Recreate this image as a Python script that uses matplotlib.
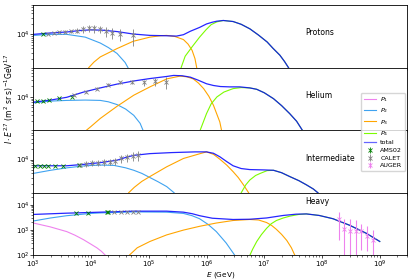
import numpy as np
import matplotlib.pyplot as plt

# curves: (log10 E [GeV], log10 I*E^2.7)
prot_p2 = [(3.0, 3.97), (3.3, 4.0), (3.58, 4.0), (3.9, 3.92), (4.16, 3.75), (4.3, 3.62),
           (4.45, 3.45), (4.59, 3.19), (4.64, 3.04), (4.7, 2.8)]
prot_p3 = [(3.9, 2.85), (3.96, 3.04), (4.05, 3.2), (4.16, 3.35), (4.45, 3.59), (4.73, 3.8),
           (5.02, 3.92), (5.2, 3.96), (5.31, 3.97), (5.45, 3.94), (5.6, 3.85), (5.68, 3.72),
           (5.75, 3.54), (5.8, 3.3), (5.83, 3.04), (5.87, 2.8)]
prot_p4 = [(5.53, 2.85), (5.56, 3.04), (5.63, 3.37), (5.75, 3.64), (5.88, 3.92), (5.99, 4.13),
           (6.08, 4.28), (6.18, 4.36), (6.29, 4.4), (6.46, 4.37), (6.6, 4.29), (6.75, 4.16),
           (6.9, 3.98), (7.05, 3.78), (7.15, 3.6), (7.27, 3.4), (7.35, 3.22), (7.42, 3.04),
           (7.5, 2.8)]
prot_tot = [(3.0, 4.0), (3.3, 4.04), (3.59, 4.07), (3.8, 4.11), (4.0, 4.13), (4.2, 4.12),
            (4.45, 4.08), (4.73, 4.01), (5.02, 3.97), (5.3, 3.96), (5.48, 3.95), (5.6, 3.99),
            (5.72, 4.09), (5.88, 4.2), (6.0, 4.3), (6.1, 4.35), (6.18, 4.38), (6.29, 4.4),
            (6.46, 4.37), (6.6, 4.29), (6.75, 4.16), (6.9, 3.98), (7.05, 3.78), (7.15, 3.6),
            (7.27, 3.4), (7.35, 3.22), (7.42, 3.04), (7.5, 2.8)]

he_p2 = [(3.0, 3.83), (3.3, 3.88), (3.58, 3.9), (3.9, 3.91), (4.16, 3.9), (4.3, 3.86),
         (4.45, 3.78), (4.6, 3.65), (4.74, 3.47), (4.85, 3.24), (4.9, 3.04), (4.95, 2.85)]
he_p3 = [(3.85, 2.85), (3.92, 3.04), (4.0, 3.15), (4.16, 3.38), (4.45, 3.73), (4.74, 4.05),
         (5.02, 4.29), (5.31, 4.52), (5.54, 4.6), (5.66, 4.58), (5.77, 4.52), (5.86, 4.4),
         (5.95, 4.24), (6.04, 4.02), (6.12, 3.76), (6.23, 3.28), (6.26, 3.04), (6.3, 2.85)]
he_p4 = [(5.86, 2.9), (5.89, 3.04), (6.0, 3.52), (6.08, 3.8), (6.18, 4.0), (6.3, 4.14),
         (6.46, 4.24), (6.6, 4.27), (6.75, 4.26), (6.87, 4.22), (7.0, 4.12), (7.16, 3.95),
         (7.3, 3.75), (7.44, 3.52), (7.56, 3.3), (7.66, 3.04), (7.72, 2.85)]
he_tot = [(3.0, 3.85), (3.3, 3.91), (3.58, 3.99), (3.87, 4.14), (4.16, 4.26), (4.45, 4.37),
          (4.74, 4.46), (5.02, 4.53), (5.31, 4.59), (5.43, 4.62), (5.58, 4.61), (5.72, 4.57),
          (5.86, 4.48), (6.0, 4.38), (6.12, 4.33), (6.24, 4.3), (6.4, 4.29), (6.58, 4.29),
          (6.75, 4.26), (6.87, 4.22), (7.0, 4.12), (7.16, 3.95), (7.3, 3.75), (7.44, 3.52),
          (7.56, 3.3), (7.66, 3.04), (7.72, 2.85)]

im_p2 = [(3.0, 3.6), (3.3, 3.69), (3.58, 3.76), (3.9, 3.82), (4.16, 3.84), (4.4, 3.83),
         (4.6, 3.76), (4.74, 3.69), (4.88, 3.6), (5.02, 3.48), (5.16, 3.36), (5.31, 3.22),
         (5.44, 3.04), (5.48, 2.9)]
im_p3 = [(4.6, 2.85), (4.65, 3.04), (4.75, 3.2), (4.88, 3.37), (5.02, 3.51), (5.31, 3.79),
         (5.6, 4.03), (5.89, 4.17), (6.0, 4.22), (6.12, 4.15), (6.23, 4.01), (6.35, 3.84),
         (6.46, 3.65), (6.55, 3.48), (6.64, 3.27), (6.73, 3.04), (6.76, 2.9)]
im_p4 = [(6.57, 2.9), (6.6, 3.04), (6.68, 3.27), (6.75, 3.41), (6.85, 3.54), (6.93, 3.6),
         (7.05, 3.68), (7.16, 3.69), (7.3, 3.62), (7.44, 3.51), (7.6, 3.39), (7.73, 3.27),
         (7.85, 3.15), (7.93, 3.04), (8.0, 2.9)]
im_tot = [(3.0, 3.82), (3.58, 3.82), (3.87, 3.86), (4.16, 3.91), (4.45, 3.98), (4.6, 4.06),
          (4.74, 4.12), (5.02, 4.17), (5.4, 4.2), (5.8, 4.22), (6.0, 4.22), (6.12, 4.18),
          (6.23, 4.08), (6.35, 3.94), (6.46, 3.82), (6.6, 3.74), (6.75, 3.71), (7.0, 3.7),
          (7.16, 3.69), (7.3, 3.62), (7.44, 3.51), (7.6, 3.39), (7.73, 3.27), (7.85, 3.15),
          (7.93, 3.04), (8.0, 2.9)]

hv_p1 = [(3.0, 3.28), (3.29, 3.13), (3.58, 2.94), (3.72, 2.8), (3.87, 2.62), (4.0, 2.44),
         (4.1, 2.3), (4.18, 2.16), (4.25, 2.0), (4.3, 1.85)]
hv_p2 = [(3.0, 3.36), (3.3, 3.48), (3.58, 3.57), (4.0, 3.66), (4.16, 3.68), (4.74, 3.72),
         (5.31, 3.71), (5.6, 3.66), (5.75, 3.57), (5.88, 3.45), (6.03, 3.22), (6.17, 2.94),
         (6.34, 2.49), (6.49, 2.0), (6.55, 1.8)]
hv_p3 = [(4.6, 1.85), (4.66, 2.0), (4.8, 2.3), (5.02, 2.55), (5.31, 2.81), (5.6, 3.0),
         (5.88, 3.15), (6.17, 3.28), (6.46, 3.38), (6.75, 3.42), (6.9, 3.4), (7.04, 3.3),
         (7.13, 3.18), (7.21, 3.03), (7.3, 2.83), (7.39, 2.59), (7.47, 2.3), (7.53, 2.0),
         (7.58, 1.85)]
hv_p4 = [(6.72, 1.85), (6.75, 2.0), (6.8, 2.25), (6.87, 2.55), (6.95, 2.82), (7.04, 3.07),
         (7.12, 3.25), (7.21, 3.38), (7.33, 3.48), (7.44, 3.55), (7.6, 3.62), (7.73, 3.64),
         (7.95, 3.58), (8.19, 3.45), (8.48, 3.19), (8.77, 2.87), (9.0, 2.55)]
hv_tot = [(3.0, 3.62), (3.58, 3.67), (4.16, 3.71), (4.74, 3.75), (5.31, 3.75), (5.6, 3.71),
          (5.75, 3.65), (5.88, 3.57), (6.1, 3.47), (6.46, 3.42), (6.75, 3.43), (7.04, 3.48),
          (7.33, 3.58), (7.55, 3.63), (7.73, 3.64), (7.95, 3.58), (8.19, 3.45), (8.48, 3.19),
          (8.77, 2.87), (9.0, 2.55)]

# measurements: log10 E, log10 flux, relative error
prot_calet_x = [3.25, 3.35, 3.45, 3.55, 3.66, 3.76, 3.86, 3.96, 4.06, 4.16, 4.26, 4.36, 4.51, 4.72]
prot_calet_y = [4.02, 4.04, 4.06, 4.08, 4.09, 4.11, 4.16, 4.18, 4.17, 4.15, 4.09, 4.05, 4.02, 3.97]
prot_calet_e = [0.04, 0.05, 0.06, 0.08, 0.1, 0.15, 0.22, 0.25, 0.25, 0.25, 0.3, 0.35, 0.4, 0.5]
prot_ams_x = [3.16]
prot_ams_y = [4.02]

he_ams_x = [3.06, 3.16, 3.28, 3.45, 3.67]
he_ams_y = [3.87, 3.88, 3.91, 3.96, 4.01]
he_calet_x = [3.70, 3.92, 4.11, 4.30, 4.51, 4.71, 4.91, 5.11, 5.30]
he_calet_y = [4.05, 4.14, 4.24, 4.35, 4.42, 4.44, 4.42, 4.45, 4.44]
he_calet_e = [0.05, 0.06, 0.08, 0.1, 0.12, 0.15, 0.2, 0.25, 0.4]

im_ams_x = [3.03, 3.11, 3.18, 3.25, 3.38, 3.51, 3.8]
im_ams_y = [3.82, 3.82, 3.82, 3.82, 3.82, 3.82, 3.84]
im_calet_x = [3.81, 3.92, 4.02, 4.12, 4.22, 4.32, 4.42, 4.52, 4.62, 4.72, 4.81]
im_calet_y = [3.85, 3.88, 3.9, 3.91, 3.92, 3.94, 3.96, 4.03, 4.06, 4.1, 4.12]
im_calet_e = [0.15, 0.18, 0.2, 0.2, 0.22, 0.22, 0.25, 0.25, 0.28, 0.3, 0.3]

hv_ams_x = [3.74, 3.95, 4.27, 4.30]
hv_ams_y = [3.67, 3.67, 3.71, 3.71]
hv_calet_x = [4.39, 4.52, 4.62, 4.72, 4.81]
hv_calet_y = [3.73, 3.73, 3.73, 3.73, 3.73]
hv_calet_e = [0.05, 0.05, 0.06, 0.06, 0.07]
auger_x = [8.29, 8.38, 8.48, 8.59, 8.68, 8.78, 8.88]
auger_y = [3.42, 3.04, 2.98, 2.98, 2.98, 2.75, 2.62]
auger_hi = [3.73, 3.45, 3.43, 3.4, 3.26, 3.15, 3.0]
auger_lo = [2.62, 1.9, 1.9, 1.9, 2.23, 2.19, 1.9]

names = ['Protons', 'Helium', 'Intermediate', 'Heavy']
colors = ['violet', '#3fa3f0', 'orange', 'lawngreen']
xticks = [1e3, 1e4, 1e5, 1e6, 1e7, 1e8, 1e9]

panels = [
    dict(comps=[None, prot_p2, prot_p3, prot_p4], tot=prot_tot,
         ams=(prot_ams_x, prot_ams_y), calet=(prot_calet_x, prot_calet_y, prot_calet_e)),
    dict(comps=[None, he_p2, he_p3, he_p4], tot=he_tot,
         ams=(he_ams_x, he_ams_y), calet=(he_calet_x, he_calet_y, he_calet_e)),
    dict(comps=[None, im_p2, im_p3, im_p4], tot=im_tot,
         ams=(im_ams_x, im_ams_y), calet=(im_calet_x, im_calet_y, im_calet_e)),
    dict(comps=[hv_p1, hv_p2, hv_p3, hv_p4], tot=hv_tot,
         ams=(hv_ams_x, hv_ams_y), calet=(hv_calet_x, hv_calet_y, hv_calet_e)),
]

plt.rcParams.update({
    'font.size': 5.5,
    'xtick.labelsize': 5.0, 'ytick.labelsize': 5.0,
    'xtick.major.size': 2.0, 'ytick.major.size': 2.0,
    'xtick.minor.size': 1.2, 'ytick.minor.size': 1.2,
    'xtick.major.pad': 0.5, 'ytick.major.pad': 0.8,
    'xtick.major.width': 0.5, 'ytick.major.width': 0.5,
    'xtick.minor.width': 0.4, 'ytick.minor.width': 0.4,
    'axes.linewidth': 0.6,
})

fig, axes = plt.subplots(4, 1, sharex=True, figsize=(4.11, 2.8), dpi=100)
fig.subplots_adjust(left=0.081, right=0.991, bottom=0.088, top=0.982, hspace=0)

for i, (ax, p) in enumerate(zip(axes, panels)):
    for j, c in enumerate(p['comps']):
        if c is None:
            continue
        x, y = np.array(c).T
        ax.plot(10**x, 10**y, color=colors[j], lw=0.8)
    x, y = np.array(p['tot']).T
    ax.plot(10**x, 10**y, color='blue', lw=0.9, alpha=0.85)

    ams_x, ams_y = p['ams']
    v = 10**np.array(ams_y)
    h_ams = ax.errorbar(10**np.array(ams_x), v, yerr=0.03*v, fmt='x', color='green',
                        ms=2.2, mew=0.6, elinewidth=0.6)
    cx, cy, ce = p['calet']
    v = 10**np.array(cy)
    h_cal = ax.errorbar(10**np.array(cx), v, yerr=np.array(ce)*v, fmt='x', color='gray',
                        ms=2.2, mew=0.6, elinewidth=0.6)

    ax.set_xscale('log')
    ax.set_yscale('log')
    if i < 3:
        ax.set_ylim(1.1e3, 7e4)
        ax.set_yticks([1e4])
        ax.text(0.726, 0.555, names[i], transform=ax.transAxes, va='center')
    else:
        ax.set_ylim(1e2, 3e4)
        ax.set_yticks([1e2, 1e3, 1e4])
        ax.text(0.726, 0.854, names[i], transform=ax.transAxes, va='center')

ax = axes[3]
v = 10**np.array(auger_y)
lo = v - 10**np.array(auger_lo)
hi = 10**np.array(auger_hi) - v
h_aug = ax.errorbar(10**np.array(auger_x), v, yerr=[lo, hi], fmt='x', color='violet',
                    ms=2.2, mew=0.6, elinewidth=0.8)

ax.set_xticks(xticks)
ax.set_xlim(1e3, 3e9)
ax.set_xlabel('$E$ (GeV)', fontsize=5.3)
ax.xaxis.set_label_coords(0.5, -0.232)
axes[1].set_ylabel(r'$I \cdot E^{2.7}$ (m$^2$ sr s)$^{-1}$GeV$^{1.7}$')
axes[1].yaxis.set_label_coords(-0.047, 0.5)

line_h = [plt.Line2D([], [], color=c, lw=0.8) for c in colors]
line_h.append(plt.Line2D([], [], color='blue', lw=0.9, alpha=0.6))
fig.legend(line_h + [h_ams, h_cal, h_aug],
           ['$P_1$', '$P_2$', '$P_3$', '$P_4$', 'total', 'AMS02', 'CALET', 'AUGER'],
           loc='upper right', bbox_to_anchor=(0.993, 0.68), fontsize=4.6,
           handlelength=2.0, handletextpad=0.6, labelspacing=0.35, borderpad=0.4,
           framealpha=0.8)

plt.savefig('out.png')
